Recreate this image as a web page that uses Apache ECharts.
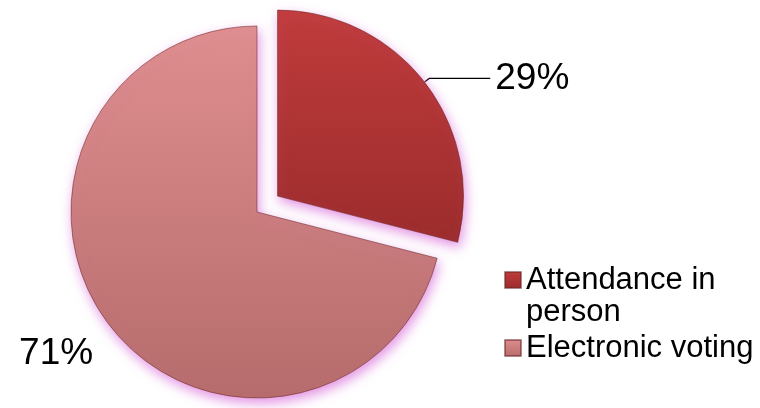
<!DOCTYPE html>
<html lang="en">
<head>
    <meta charset="UTF-8">
    <title>Voting</title>
    <style>
        * {
            margin: 0;
            padding: 0;
        }

        html, body {
            width: 100%;
            height: 100%;
            background: #fff;
        }

        #chart {
            width: 760px;
            height: 408px;
        }
    </style>
    <script src="https://cdnjs.cloudflare.com/ajax/libs/echarts/6.0.0/echarts.min.js"></script>
</head>
<body>
<div id="chart"></div>

<script>
    // data
    const categories = ['Attendance in\nperson', 'Electronic voting']
    const shares = [29, 71]
    const percentLabels = ['29%', '71%']

    const fills = [
        new echarts.graphic.LinearGradient(0, 0, 0, 1, [
            {offset: 0, color: '#c03b3b'},
            {offset: 1, color: '#9c2c2c'}
        ]),
        new echarts.graphic.LinearGradient(0, 0, 0, 1, [
            {offset: 0, color: '#df8e8e'},
            {offset: 1, color: '#b66c6c'}
        ])
    ]

    let chart = echarts.init(document.getElementById('chart'))

    let seriesData = categories.map(function (name, i) {
        return {
            name: name,
            value: shares[i],
            selected: i === 0,
            itemStyle: {color: fills[i]},
            label: {formatter: percentLabels[i]},
            // the big slice has no leader line, its label sits just off the edge
            labelLine: i === 0 ? {show: true} : {show: false, length: 15, length2: 0}
        }
    })

    let option = {
        animation: false,
        legend: {
            orient: 'vertical',
            left: 499,
            top: 227,
            itemWidth: 16,
            itemHeight: 16,
            itemGap: 4,
            icon: 'rect',
            selectedMode: false,
            formatter: function (name) {
                // keep the icon level with the first text line
                return name.indexOf('\n') >= 0 ? ' \n' + name : name
            },
            textStyle: {
                fontFamily: 'Liberation Sans, Arial, sans-serif',
                fontSize: 31,
                lineHeight: 32,
                color: '#000'
            },
            data: categories
        },
        series: [
            {
                type: 'pie',
                center: [257, 212],
                radius: 186,
                startAngle: 90,
                clockwise: true,
                selectedMode: 'single',
                selectedOffset: 26,
                avoidLabelOverlap: false,
                itemStyle: {
                    borderColor: 'rgba(110,40,40,0.55)',
                    borderWidth: 1,
                    shadowColor: 'rgba(222,130,222,0.85)',
                    shadowBlur: 12,
                    shadowOffsetX: 2,
                    shadowOffsetY: 5
                },
                select: {
                    itemStyle: {
                        borderColor: 'rgba(110,40,40,0.55)',
                        borderWidth: 1
                    }
                },
                emphasis: {disabled: true},
                label: {
                    show: true,
                    position: 'outside',
                    fontFamily: 'Liberation Sans, Arial, sans-serif',
                    fontSize: 37,
                    color: '#000',
                    distanceToLabelLine: 5
                },
                labelLine: {
                    length: 6,
                    length2: 61,
                    lineStyle: {color: '#000', width: 1.3}
                },
                labelLayout: function (params) {
                    if (params.dataIndex === 1) {
                        return {dy: 19}
                    }
                    return {}
                },
                data: seriesData
            }
        ]
    }
    chart.setOption(option, true)
</script>
</body>
</html>
